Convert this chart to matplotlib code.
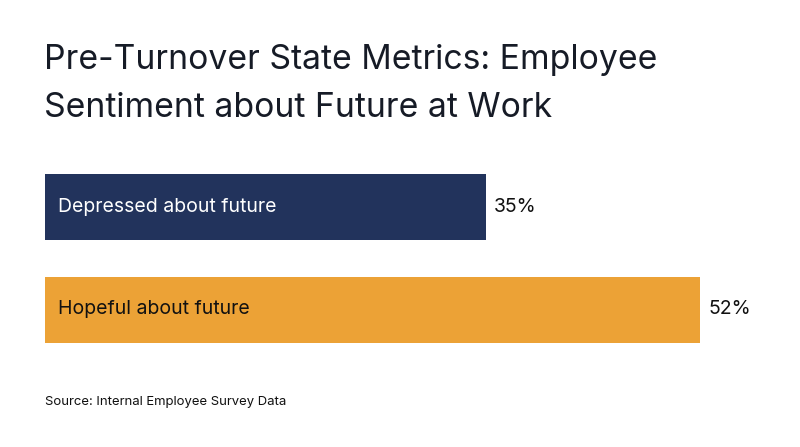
import matplotlib
matplotlib.use("Agg")
import matplotlib.pyplot as plt

categories = ["Depressed about future", "Hopeful about future"]
values = [35, 52]
value_labels = ["35%", "52%"]
title_lines = ["Pre-Turnover State Metrics: Employee", "Sentiment about Future at Work"]
source = "Source: Internal Employee Survey Data"

colors = ["#22335C", "#ECA236"]
label_colors = ["#FFFFFF", "#111111"]

plt.rcParams['font.family'] = ['Inter', 'DejaVu Sans']

W, H = 800, 447
fig = plt.figure(figsize=(8, 4.47), dpi=100)
fig.patch.set_facecolor("white")

ax = fig.add_axes([45 / W, 1 - 370 / H, 700 / W, 220 / H])
scale = 12.6  # px per unit
ax.set_xlim(0, 700 / scale)
ax.set_ylim(1 + (370 - 309.5) / 102.5, -57 / 102.5)
ypos = list(range(len(categories)))
ax.barh(ypos, values, height=66 / 102.5, color=colors)
for y, v, c, lab, vl in zip(ypos, values, label_colors, categories, value_labels):
    ax.text(13 / scale, y, lab, color=c, fontsize=14, va="center", ha="left")
    ax.text(v + 8 / scale, y, vl, color="#111111", fontsize=14, va="center", ha="left")
ax.axis("off")

for i, line in enumerate(title_lines):
    fig.text(44 / W, 1 - (69.3 + 48 * i) / H, line, fontsize=24.3, color="#161B26",
             ha="left", va="baseline")
fig.text(45 / W, 1 - 405 / H, source, fontsize=9.45, color="#111111",
         ha="left", va="baseline")

fig.savefig("out.png", dpi=100, facecolor="white")
